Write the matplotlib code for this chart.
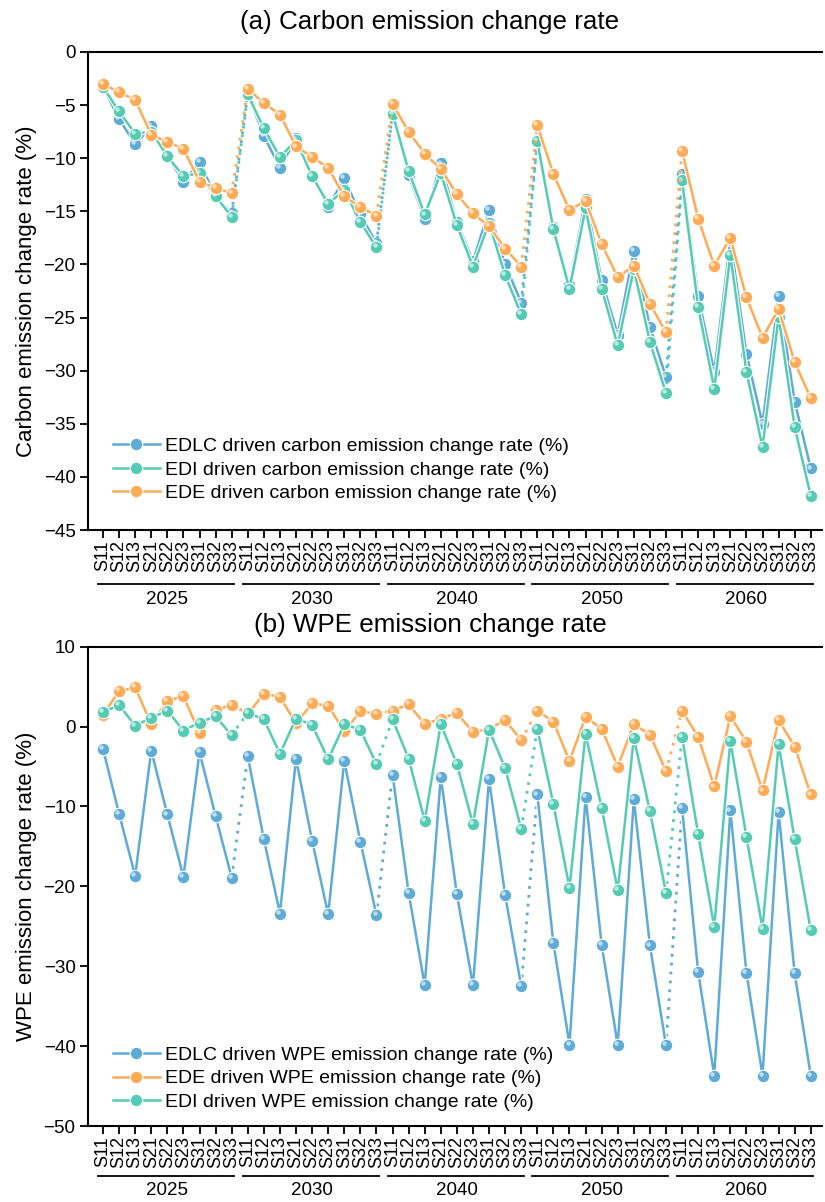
import numpy as np
import matplotlib
matplotlib.use("Agg")
import matplotlib.pyplot as plt
import matplotlib.patheffects as pe
from matplotlib.transforms import offset_copy, blended_transform_factory
from matplotlib.lines import Line2D

plt.rcParams['font.family'] = ['Liberation Sans', 'DejaVu Sans']

years = ['2025', '2030', '2040', '2050', '2060']
scenarios = ['S11', 'S12', 'S13', 'S21', 'S22', 'S23', 'S31', 'S32', 'S33']

# (a) carbon emission change rate (%), 9 scenarios per year
carbon_edlc = [-3.3, -6.3, -8.7, -7.0, -9.8, -12.2, -10.4, -13.6, -15.2,
               -3.9, -7.9, -10.9, -8.1, -11.7, -14.6, -11.9, -15.3, -18.0,
               -5.7, -11.6, -15.7, -10.5, -16.0, -19.7, -14.9, -20.0, -23.6,
               -8.3, -16.5, -21.9, -13.8, -21.5, -26.6, -18.7, -25.9, -30.6,
               -11.5, -23.0, -30.1, -17.7, -28.4, -35.0, -23.0, -32.9, -39.2]
carbon_edi = [-3.3, -5.6, -7.7, -7.5, -9.8, -11.7, -11.4, -13.6, -15.5,
              -4.0, -7.2, -9.9, -8.3, -11.7, -14.3, -13.0, -16.0, -18.4,
              -5.8, -11.2, -15.3, -11.4, -16.3, -20.2, -16.1, -21.0, -24.7,
              -8.4, -16.7, -22.3, -14.7, -22.3, -27.6, -20.4, -27.3, -32.1,
              -12.1, -24.0, -31.7, -19.1, -30.1, -37.2, -24.9, -35.3, -41.8]
carbon_ede = [-3.0, -3.8, -4.5, -7.8, -8.5, -9.1, -12.2, -12.8, -13.3,
              -3.5, -4.8, -5.9, -8.9, -9.9, -10.9, -13.6, -14.6, -15.4,
              -4.9, -7.5, -9.6, -11.0, -13.4, -15.2, -16.4, -18.5, -20.2,
              -6.9, -11.5, -14.9, -14.0, -18.1, -21.2, -20.1, -23.7, -26.4,
              -9.3, -15.7, -20.1, -17.5, -23.1, -26.9, -24.2, -29.2, -32.6]

# (b) WPE emission change rate (%)
wpe_edlc = [-2.8, -10.9, -18.7, -3.0, -11.0, -18.8, -3.2, -11.2, -18.9,
            -3.7, -14.1, -23.4, -4.0, -14.3, -23.5, -4.3, -14.4, -23.6,
            -6.0, -20.8, -32.4, -6.3, -21.0, -32.4, -6.6, -21.1, -32.5,
            -8.5, -27.1, -39.8, -8.8, -27.3, -39.9, -9.1, -27.4, -39.9,
            -10.2, -30.7, -43.7, -10.5, -30.8, -43.7, -10.7, -30.9, -43.7]
wpe_ede = [1.5, 4.4, 4.9, 0.3, 3.2, 3.8, -0.8, 2.1, 2.7,
           1.6, 4.1, 3.7, 0.4, 2.9, 2.6, -0.6, 1.9, 1.6,
           2.0, 2.8, 0.3, 1.0, 1.7, -0.7, -0.3, 0.8, -1.7,
           2.0, 0.6, -4.3, 1.2, -0.3, -5.0, 0.3, -1.0, -5.6,
           2.0, -1.3, -7.5, 1.3, -1.9, -8.0, 0.8, -2.5, -8.5]
wpe_edi = [1.8, 2.7, 0.1, 1.1, 2.0, -0.5, 0.5, 1.3, -1.1,
           1.7, 0.9, -3.4, 1.0, 0.2, -4.1, 0.3, -0.4, -4.7,
           0.9, -4.0, -11.8, 0.3, -4.7, -12.2, -0.4, -5.2, -12.8,
           -0.3, -9.7, -20.2, -0.9, -10.2, -20.5, -1.4, -10.6, -20.8,
           -1.3, -13.5, -25.1, -1.8, -13.8, -25.3, -2.2, -14.1, -25.5]

blue = '#5dabd6'
teal = '#55cbb4'
orange = '#ffaa55'


def lighten(c, f):
    rgb = np.array(matplotlib.colors.to_rgb(c))
    return tuple(rgb + (1 - rgb) * f)


def draw_series(fig, ax, vals, color, z):
    x = np.arange(len(vals))
    v = np.array(vals)
    halo = [pe.Stroke(linewidth=3.4, foreground='white'), pe.Normal()]
    for k in range(len(years)):
        s = slice(9 * k, 9 * k + 9)
        ax.plot(x[s], v[s], '-', color=color, lw=1.8, path_effects=halo, zorder=z)
        if k < len(years) - 1:
            ax.plot(x[9 * k + 8:9 * k + 10], v[9 * k + 8:9 * k + 10],
                    linestyle=(0, (1, 2.2)), color=color, lw=2.0, zorder=z - 0.5)
    ax.plot(x, v, 'o', ms=9, mfc=color, mec='white', mew=0.8, zorder=z + 0.1)
    hl = offset_copy(ax.transData, fig=fig, x=-1.4, y=1.4, units='points')
    ax.plot(x, v, 'o', ms=3.2, mfc=lighten(color, 0.6), mec='none',
            transform=hl, zorder=z + 0.2)


def style_axis(ax, ylim, yticks, line_y, text_y):
    n = len(years) * len(scenarios)
    ax.set_xlim(-0.93, n - 1 + 0.7)
    ax.set_ylim(*ylim)
    ax.set_yticks(yticks)
    ax.set_xticks(np.arange(n))
    ax.set_xticklabels(scenarios * len(years), rotation=90)
    ax.tick_params(axis='both', direction='out', length=5.5, width=1.3, labelsize=13.5)
    ax.tick_params(axis='x', pad=2, labelsize=13)
    for sp in ['left', 'bottom', 'top']:
        ax.spines[sp].set_linewidth(1.5)
    ax.spines['right'].set_visible(False)
    tr = blended_transform_factory(ax.transData, ax.transAxes)
    for k, yr in enumerate(years):
        ax.add_line(Line2D([9 * k - 0.3, 9 * k + 8.15], [line_y, line_y], transform=tr,
                           color='black', lw=1.3, clip_on=False))
        ax.text(9 * k + 4, text_y, yr, transform=tr, ha='center', va='center', fontsize=13.5)


fig = plt.figure(figsize=(8.25, 12.02), dpi=100)
ax1 = fig.add_axes([0.1067, 0.559, 0.8897, 0.3978])
ax2 = fig.add_axes([0.1067, 0.0632, 0.8897, 0.3988])

draw_series(fig, ax1, carbon_edlc, blue, 3)
draw_series(fig, ax1, carbon_edi, teal, 4)
draw_series(fig, ax1, carbon_ede, orange, 5)
style_axis(ax1, (-45, 0), np.arange(-45, 1, 5), -0.113, -0.146)
ax1.set_ylabel('Carbon emission change rate (%)', fontsize=16, labelpad=5)

draw_series(fig, ax2, wpe_edlc, blue, 3)
draw_series(fig, ax2, wpe_ede, orange, 4)
draw_series(fig, ax2, wpe_edi, teal, 5)
style_axis(ax2, (-50, 10), np.arange(-50, 11, 10), -0.104, -0.135)
ax2.set_ylabel('WPE emission change rate (%)', fontsize=16, labelpad=5)


def handle(c):
    return Line2D([], [], color=c, lw=1.8, marker='o', ms=9, mfc=c, mec='white', mew=0.8)


ax1.legend([handle(blue), handle(teal), handle(orange)],
           ['EDLC driven carbon emission change rate (%)',
            'EDI driven carbon emission change rate (%)',
            'EDE driven carbon emission change rate (%)'],
           loc='lower left', bbox_to_anchor=(0.01, 0.022), frameon=False,
           fontsize=14, handlelength=2.4, handletextpad=0.3, labelspacing=0.3)
ax2.legend([handle(blue), handle(orange), handle(teal)],
           ['EDLC driven WPE emission change rate (%)',
            'EDE driven WPE emission change rate (%)',
            'EDI driven WPE emission change rate (%)'],
           loc='lower left', bbox_to_anchor=(0.01, -0.005), frameon=False,
           fontsize=14, handlelength=2.4, handletextpad=0.3, labelspacing=0.3)

fig.text(430 / 825, 1 - 22 / 1202, '(a) Carbon emission change rate', ha='center', va='center', fontsize=18.7)
fig.text(430 / 825, 1 - 625 / 1202, '(b) WPE emission change rate', ha='center', va='center', fontsize=18.7)

fig.savefig('out.png', dpi=100)
